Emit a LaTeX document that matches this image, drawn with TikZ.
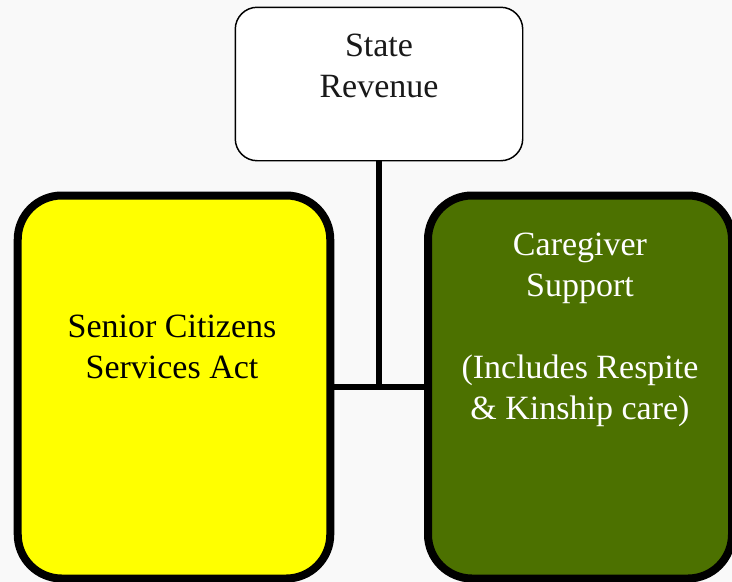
\documentclass[tikz,border=0pt]{standalone}
\usepackage{fontspec}
\setmainfont{Liberation Serif}
\definecolor{pagebg}{RGB}{249,249,249}
\definecolor{actyellow}{RGB}{255,255,0}
\definecolor{caregreen}{RGB}{76,113,0}
\tikzset{
  fundbox/.style={draw=black,line width=1.1pt,rounded corners=16.5pt,fill=white},
  programbox/.style={draw=black,line width=6pt,rounded corners=33pt},
  boxtext/.style={anchor=base,align=center,inner sep=0pt,font=\fontsize{25.5}{30.75}\selectfont},
  link/.style={line width=4.5pt}
}
\begin{document}
\begin{tikzpicture}[x=0.75pt,y=-0.75pt]

\useasboundingbox[fill=pagebg] (0,0) rectangle (732,582);

%top
\node[fundbox,minimum width=215.6pt,minimum height=115.1pt] (revenue) at (379,84) {};
\node[boxtext,text=black!90] (revenuetext) at (379,97) {State\\Revenue};

%left
\node[programbox,fill=actyellow,minimum width=234.4pt,minimum height=287.25pt] (senior) at (174,387) {};
\node[boxtext,text=black] (seniortext) at (172,378) {Senior Citizens\\Services Act};

%right
\node[programbox,fill=caregreen,minimum width=228pt,minimum height=287.25pt] (caregiver) at (580,387) {};
\node[boxtext,text=white] (caregivertext) at (580,419) {Caregiver\\Support\\ \\(Includes Respite\\\& Kinship care)};

\draw[link] (senior.east)--(caregiver.west);
\draw[link] (revenue.south)--(revenue.south |- senior.east);
\end{tikzpicture}
\end{document}
